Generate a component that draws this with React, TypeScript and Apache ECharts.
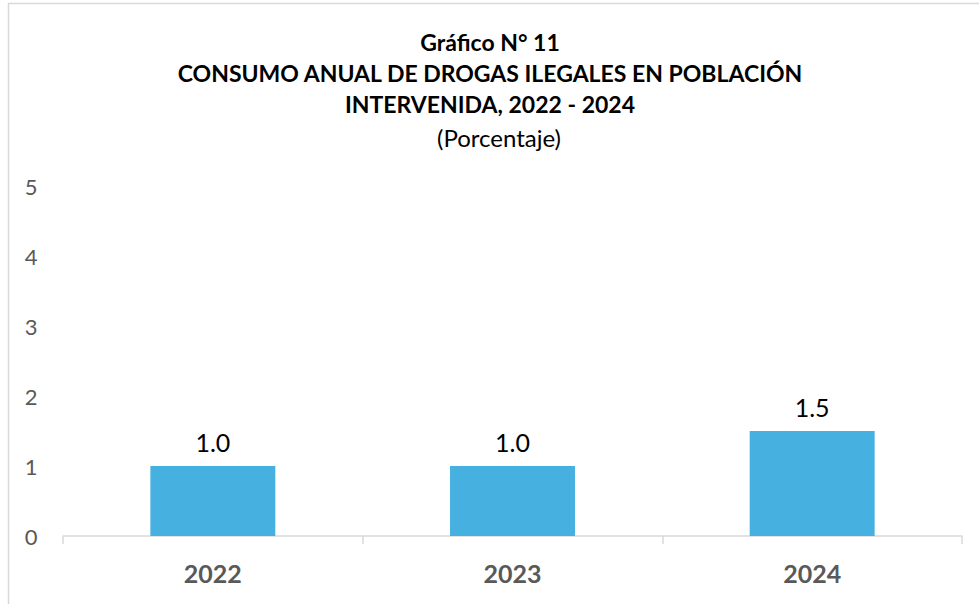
import React, { useEffect, useRef } from "react";
import * as echarts from "echarts";

const categories = ["2022", "2023", "2024"];
const values = [1.0, 1.0, 1.5];
const yTicks = [0, 1, 2, 3, 4, 5];
const titleLines = [
  "Gráfico N° 11",
  "CONSUMO ANUAL DE DROGAS ILEGALES EN POBLACIÓN",
  "INTERVENIDA, 2022 - 2024",
];
const subtitle = "(Porcentaje)";

const FONT = "Lato, 'Open Sans', sans-serif";

export default function App() {
  const ref = useRef<HTMLDivElement>(null);
  useEffect(() => {
    if (!ref.current) return;
    const chart = echarts.init(ref.current, undefined, { renderer: "svg" });
    chart.setOption({
      animation: false,
      backgroundColor: "#ffffff",
      graphic: [
        {
          type: "rect",
          shape: { x: 8.5, y: 3.5, width: 1000, height: 700 },
          style: { fill: "none", stroke: "#d9d9d9", lineWidth: 1.5 },
          silent: true,
        },
        ...titleLines.map((t, i) => ({
          type: "text",
          x: 490,
          y: 42 + i * 31,
          style: {
            text: t,
            fontFamily: FONT,
            fontWeight: "bold",
            fontSize: 23,
            fill: "#000000",
            align: "center",
            verticalAlign: "middle",
          },
        })),
        {
          type: "text",
          x: 499,
          y: 137,
          style: {
            text: subtitle,
            fontFamily: FONT,
            fontSize: 24,
            fill: "#000000",
            align: "center",
            verticalAlign: "middle",
          },
        },
      ],
      grid: { left: 63, right: 17, top: 186, bottom: 68, containLabel: false },
      xAxis: {
        type: "category",
        data: categories,
        axisLine: { show: true, lineStyle: { color: "#d9d9d9", width: 1.5 } },
        axisTick: { show: true, length: 8, lineStyle: { color: "#d9d9d9", width: 1.5 } },
        axisLabel: {
          color: "#595959",
          fontFamily: FONT,
          fontWeight: "bold",
          fontSize: 25,
          margin: 24,
        },
      },
      yAxis: {
        type: "value",
        min: yTicks[0],
        max: yTicks[yTicks.length - 1],
        interval: 1,
        axisLine: { show: false },
        axisTick: { show: false },
        splitLine: { show: false },
        axisLabel: {
          color: "#595959",
          fontFamily: FONT,
          fontSize: 22,
          margin: 32,
          align: "center",
        },
      },
      series: [
        {
          type: "bar",
          data: values,
          barWidth: "41.7%",
          itemStyle: { color: "#46b0e0" },
          label: {
            show: true,
            position: "top",
            distance: 12,
            formatter: (p: any) => Number(p.value).toFixed(1),
            color: "#000000",
            fontFamily: FONT,
            fontSize: 25,
          },
        },
      ],
    });
    return () => chart.dispose();
  }, []);
  return (
    <div
      ref={ref}
      style={{ position: "absolute", left: 0, top: 0, width: 979, height: 604 }}
    />
  );
}
